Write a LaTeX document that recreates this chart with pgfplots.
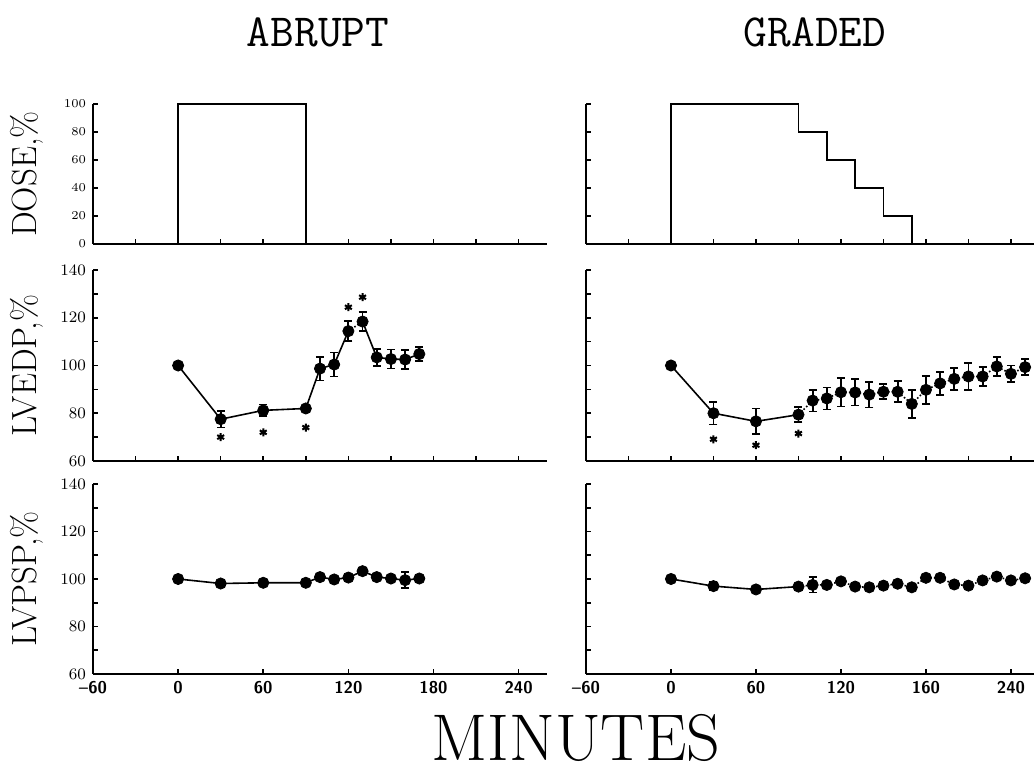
\documentclass[border=0pt]{standalone}
\usepackage{pgfplots}
\usepackage{pgfplotstable}
\pgfplotsset{compat=1.18}

% time (min), mean (% of control), s.e.
\pgfplotstableread{
t v e
0 100 0
30 77.5 3.5
60 81.2 2.5
90 82 1
100 98.7 5
110 100.4 5
120 114.4 4.3
130 118.4 4
140 103.4 3.5
150 102.7 4
160 102.5 4
170 104.8 3
}\edpA
\pgfplotstableread{
t v
30 70
60 72
90 74
120 124.4
130 128.6
}\edpAstar
\pgfplotstableread{
t v e
0 100 0
30 98.1 1
60 98.4 0.8
90 98.4 0.8
100 100.8 1
110 99.8 0.8
120 100.6 1
130 103.3 1
140 100.8 1
150 100.2 1
160 99.5 3.4
170 100.2 1
}\spA
\pgfplotstableread{
t v e
0 100 0
30 80 4.7
60 76.6 5.4
90 79.4 3.2
100 85.3 4.6
110 86.2 4.6
120 88.8 6
130 88.7 5.5
140 87.8 5.4
150 89 3.2
160 89 4.4
170 83.9 6
180 89.8 5.8
190 92.5 4.7
200 94.4 4.6
210 95.4 5.8
220 95.4 3.9
230 99.6 3.9
240 96.5 3.5
250 99.3 3.4
}\edpG
\pgfplotstableread{
t v
30 69.1
60 66.6
90 71.5
}\edpGstar
\pgfplotstableread{
t v e
0 100 0
30 97 1.8
60 95.6 1
90 96.8 1
100 97.5 3.2
110 97.5 1
120 99 1
130 96.8 1
140 96.5 1
150 97.2 1
160 98 1
170 96.5 1
180 100.5 1
190 100.5 1
200 97.7 1
210 97.2 1
220 99.4 1
230 101 1
240 99.4 1
250 100.3 1
}\spG

\pgfplotsset{
  panel/.style={
    scale only axis, anchor=south west, clip=false,
    axis lines=left, axis line style={-, line width=1pt},
    tick align=inside, tick style={black, line width=0.8pt},
    major tick length=2.5pt, minor tick length=2.5pt,
    ticklabel style={font=\fontsize{8.5}{9}\sffamily\bfseries},
    every axis y label/.style={at={(axis description cs:-0.145,0.5)},
      rotate=90, anchor=center, font=\fontsize{17.5}{20}\selectfont},
  },
  leftp/.style={panel, width=227pt, xmin=-60, xmax=260},
  rightp/.style={panel, width=223.8pt, xmin=-60, xmax=256, yticklabels={}},
  dosep/.style={height=70pt, ymin=0, ymax=100, ytick={0,20,...,100},
    yticklabel style={font=\fontsize{6.5}{7}\sffamily\bfseries},
    xtick={-60,-30,...,240}, xticklabels={}},
  edpp/.style={height=95.5pt, ymin=60, ymax=140, ytick={60,80,...,140},
    minor ytick={70,90,110,130}, xtick={-60,-30,...,240}, xticklabels={}},
  spp/.style={height=95pt, ymin=60, ymax=140, ytick={60,80,...,140},
    minor ytick={70,90,110,130}, xtick={-60,0,...,240}},
  dline/.style={black, line width=0.8pt, no marks},
  dpts/.style={black, only marks, mark=*, mark size=2.8pt,
    error bars/.cd, y dir=both, y explicit,
    error bar style={line width=0.9pt, black},
    error mark options={rotate=90, mark size=2pt, line width=0.9pt, black}},
  stars/.style={black, only marks, mark=asterisk, mark size=2pt,
    mark options={line width=1pt}},
}

\begin{document}
\begin{tikzpicture}
\path[use as bounding box] (0,0) rectangle (517pt,387pt);

% ABRUPT column
\begin{axis}[leftp, dosep, at={(46.5pt,265pt)}, ylabel={DOSE,\%}]
\addplot[black, line width=0.9pt, const plot] coordinates {(0,0) (0,100) (90,0)};
\end{axis}

\begin{axis}[leftp, edpp, at={(46.5pt,156.5pt)}, ylabel={LVEDP,\%}]
\addplot[dline, restrict x to domain=0:120] table[x=t, y=v] {\edpA};
\addplot[dline, densely dotted, restrict x to domain=120:130] table[x=t, y=v] {\edpA};
\addplot[dline, restrict x to domain=130:260] table[x=t, y=v] {\edpA};
\addplot[dpts] table[x=t, y=v, y error=e] {\edpA};
\addplot[stars] table[x=t, y=v] {\edpAstar};
\end{axis}

\begin{axis}[leftp, spp, at={(46.5pt,50pt)}, ylabel={LVPSP,\%},
  xticklabels={--60,0,60,120,180,240}]
\addplot[dline] table[x=t, y=v] {\spA};
\addplot[dpts] table[x=t, y=v, y error=e] {\spA};
\end{axis}

% GRADED column
\begin{axis}[rightp, dosep, at={(293pt,265pt)}]
\addplot[black, line width=0.9pt, const plot] coordinates
  {(0,0) (0,100) (90,80) (110,60) (130,40) (150,20) (170,0)};
\end{axis}

\begin{axis}[rightp, edpp, at={(293pt,156.5pt)}]
\addplot[dline, restrict x to domain=0:90] table[x=t, y=v] {\edpG};
\addplot[dline, densely dotted, restrict x to domain=90:260] table[x=t, y=v] {\edpG};
\addplot[dpts] table[x=t, y=v, y error=e] {\edpG};
\addplot[stars] table[x=t, y=v] {\edpGstar};
\end{axis}

\begin{axis}[rightp, spp, at={(293pt,50pt)},
  xticklabels={--60,0,60,120,160,240}]
\addplot[dline, restrict x to domain=0:90] table[x=t, y=v] {\spG};
\addplot[dline, densely dotted, restrict x to domain=90:260] table[x=t, y=v] {\spG};
\addplot[dpts] table[x=t, y=v, y error=e] {\spG};
\end{axis}

\node[font=\fontsize{23}{26}\ttfamily] at (159pt,371pt) {ABRUPT};
\node[font=\fontsize{23}{26}\ttfamily] at (407.5pt,371pt) {GRADED};
\node[font=\fontsize{33}{36}\selectfont, inner sep=0pt] at (288pt,18pt) {MINUTES};
\end{tikzpicture}
\end{document}
